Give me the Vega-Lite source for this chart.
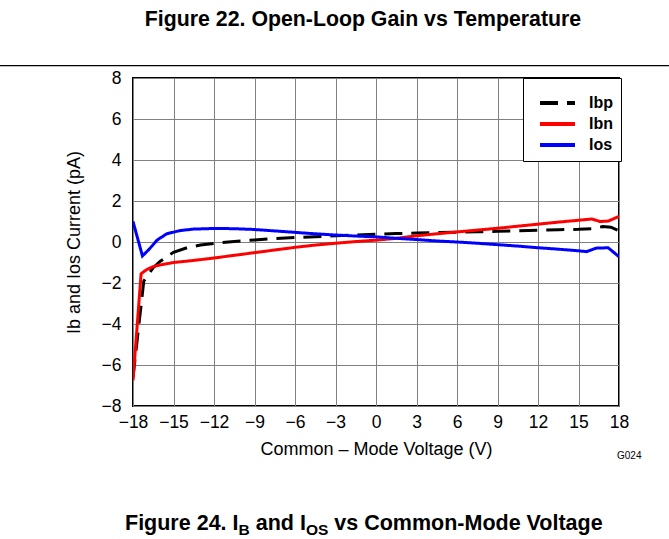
{
  "$schema": "https://vega.github.io/schema/vega-lite/v6.json",
  "width": 486,
  "height": 328,
  "autosize": {"type": "none"},
  "padding": {"left": 133, "top": 78, "right": 50, "bottom": 133},
  "background": "white",
  "title": {"text": "Figure 22. Open-Loop Gain vs Temperature", "anchor": "middle", "frame": "group", "dx": -13, "offset": 35, "fontSize": 21.3, "fontWeight": "bold", "font": "Liberation Sans", "color": "black"},
  "config": {
    "font": "Liberation Sans",
    "view": {"stroke": "black", "strokeWidth": 2},
    "axis": {"labelFont": "Liberation Sans", "labelFontSize": 17.5, "labelColor": "black", "labelOverlap": false, "labelFlush": false, "titleFont": "Liberation Sans", "titleFontSize": 18, "titleFontWeight": "normal", "titleColor": "black", "gridColor": "#808080", "gridWidth": 1, "gridOpacity": 1, "domain": false, "ticks": false}
  },
  "datasets": {
    "curves": [
      {"series": "Ibp", "vcm": -18, "current": -6.6},
      {"series": "Ibp", "vcm": -17.2, "current": -1.9},
      {"series": "Ibp", "vcm": -16.5, "current": -1.25},
      {"series": "Ibp", "vcm": -16, "current": -0.95},
      {"series": "Ibp", "vcm": -15, "current": -0.5},
      {"series": "Ibp", "vcm": -14, "current": -0.28},
      {"series": "Ibp", "vcm": -13, "current": -0.15},
      {"series": "Ibp", "vcm": -12, "current": -0.07},
      {"series": "Ibp", "vcm": -10.5, "current": 0.03},
      {"series": "Ibp", "vcm": -9, "current": 0.1},
      {"series": "Ibp", "vcm": -7.5, "current": 0.17},
      {"series": "Ibp", "vcm": -6, "current": 0.22},
      {"series": "Ibp", "vcm": -4.5, "current": 0.26},
      {"series": "Ibp", "vcm": -3, "current": 0.3},
      {"series": "Ibp", "vcm": -1.5, "current": 0.34},
      {"series": "Ibp", "vcm": 0, "current": 0.38},
      {"series": "Ibp", "vcm": 1.5, "current": 0.41},
      {"series": "Ibp", "vcm": 3, "current": 0.44},
      {"series": "Ibp", "vcm": 4.5, "current": 0.46},
      {"series": "Ibp", "vcm": 6, "current": 0.48},
      {"series": "Ibp", "vcm": 7.5, "current": 0.5},
      {"series": "Ibp", "vcm": 9, "current": 0.52},
      {"series": "Ibp", "vcm": 10.5, "current": 0.55},
      {"series": "Ibp", "vcm": 12, "current": 0.57},
      {"series": "Ibp", "vcm": 13.5, "current": 0.6},
      {"series": "Ibp", "vcm": 15, "current": 0.62},
      {"series": "Ibp", "vcm": 16, "current": 0.65},
      {"series": "Ibp", "vcm": 16.8, "current": 0.75},
      {"series": "Ibp", "vcm": 17.4, "current": 0.72},
      {"series": "Ibp", "vcm": 18, "current": 0.55},
      {"series": "Ibn", "vcm": -18, "current": -6.75},
      {"series": "Ibn", "vcm": -17.4, "current": -1.55},
      {"series": "Ibn", "vcm": -17, "current": -1.35},
      {"series": "Ibn", "vcm": -16.5, "current": -1.2},
      {"series": "Ibn", "vcm": -16, "current": -1.12},
      {"series": "Ibn", "vcm": -15, "current": -1.0},
      {"series": "Ibn", "vcm": -13.5, "current": -0.9},
      {"series": "Ibn", "vcm": -12, "current": -0.78},
      {"series": "Ibn", "vcm": -10.5, "current": -0.65},
      {"series": "Ibn", "vcm": -9, "current": -0.52},
      {"series": "Ibn", "vcm": -7.5, "current": -0.39},
      {"series": "Ibn", "vcm": -6, "current": -0.26},
      {"series": "Ibn", "vcm": -4.5, "current": -0.15},
      {"series": "Ibn", "vcm": -3, "current": -0.06},
      {"series": "Ibn", "vcm": -1.5, "current": 0.02},
      {"series": "Ibn", "vcm": 0, "current": 0.09},
      {"series": "Ibn", "vcm": 1.5, "current": 0.18},
      {"series": "Ibn", "vcm": 3, "current": 0.3},
      {"series": "Ibn", "vcm": 4.5, "current": 0.4},
      {"series": "Ibn", "vcm": 6, "current": 0.49},
      {"series": "Ibn", "vcm": 7.5, "current": 0.58},
      {"series": "Ibn", "vcm": 9, "current": 0.67},
      {"series": "Ibn", "vcm": 10.5, "current": 0.77},
      {"series": "Ibn", "vcm": 12, "current": 0.87},
      {"series": "Ibn", "vcm": 13.5, "current": 0.97},
      {"series": "Ibn", "vcm": 15, "current": 1.06},
      {"series": "Ibn", "vcm": 15.6, "current": 1.1},
      {"series": "Ibn", "vcm": 16, "current": 1.12},
      {"series": "Ibn", "vcm": 16.6, "current": 1.0},
      {"series": "Ibn", "vcm": 17.2, "current": 1.02},
      {"series": "Ibn", "vcm": 18, "current": 1.25},
      {"series": "Ios", "vcm": -18, "current": 1.0},
      {"series": "Ios", "vcm": -17.3, "current": -0.68},
      {"series": "Ios", "vcm": -16.8, "current": -0.35},
      {"series": "Ios", "vcm": -16.2, "current": 0.1},
      {"series": "Ios", "vcm": -15.5, "current": 0.4},
      {"series": "Ios", "vcm": -14.5, "current": 0.56},
      {"series": "Ios", "vcm": -13.5, "current": 0.63},
      {"series": "Ios", "vcm": -12, "current": 0.66},
      {"series": "Ios", "vcm": -10.5, "current": 0.65},
      {"series": "Ios", "vcm": -9, "current": 0.61},
      {"series": "Ios", "vcm": -7.5, "current": 0.54},
      {"series": "Ios", "vcm": -6, "current": 0.47},
      {"series": "Ios", "vcm": -4.5, "current": 0.4},
      {"series": "Ios", "vcm": -3, "current": 0.34},
      {"series": "Ios", "vcm": -1.5, "current": 0.29},
      {"series": "Ios", "vcm": 0, "current": 0.25},
      {"series": "Ios", "vcm": 1.5, "current": 0.18},
      {"series": "Ios", "vcm": 3, "current": 0.12},
      {"series": "Ios", "vcm": 4.5, "current": 0.05},
      {"series": "Ios", "vcm": 6, "current": 0.0},
      {"series": "Ios", "vcm": 7.5, "current": -0.06},
      {"series": "Ios", "vcm": 9, "current": -0.13},
      {"series": "Ios", "vcm": 10.5, "current": -0.2},
      {"series": "Ios", "vcm": 12, "current": -0.28},
      {"series": "Ios", "vcm": 13.5, "current": -0.35},
      {"series": "Ios", "vcm": 15, "current": -0.43},
      {"series": "Ios", "vcm": 15.6, "current": -0.47},
      {"series": "Ios", "vcm": 16.3, "current": -0.3},
      {"series": "Ios", "vcm": 17.2, "current": -0.28},
      {"series": "Ios", "vcm": 18, "current": -0.72}
    ],
    "one": [{"k": 1}]
  },
  "layer": [
    {
      "data": {"name": "curves"},
      "mark": {"type": "line", "strokeWidth": 3, "clip": true},
      "encoding": {
        "x": {"field": "vcm", "type": "quantitative", "scale": {"domain": [-18, 18], "nice": false, "zero": false}, "axis": {"values": [-18, -15, -12, -9, -6, -3, 0, 3, 6, 9, 12, 15, 18], "title": "Common – Mode Voltage (V)", "labelPadding": 7, "titlePadding": 10}},
        "y": {"field": "current", "type": "quantitative", "scale": {"domain": [-8, 8], "nice": false, "zero": false}, "axis": {"values": [-8, -6, -4, -2, 0, 2, 4, 6, 8], "title": "Ib and Ios Current (pA)", "labelPadding": 12, "titlePadding": 18}},
        "color": {"field": "series", "type": "nominal", "scale": {"domain": ["Ibp", "Ibn", "Ios"], "range": ["#000000", "#ff0000", "#0000ff"]}, "legend": {"title": " ", "titleFontSize": 4, "titlePadding": 0.5, "orient": "none", "legendX": 390, "legendY": 0, "fillColor": "white", "strokeColor": "black", "padding": 8, "symbolType": "M-1.667,0H1.667", "symbolSize": 441, "symbolStrokeWidth": 4, "symbolOffset": 14, "labelFontSize": 16, "labelFontWeight": "bold", "labelColor": "black", "labelOffset": 19, "rowPadding": 0}},
        "strokeDash": {"field": "series", "type": "nominal", "scale": {"domain": ["Ibp", "Ibn", "Ios"], "range": [[18, 9], [1, 0], [1, 0]]}, "legend": {"title": " "}}
      }
    },
    {
      "data": {"name": "one"},
      "mark": {"type": "rule", "color": "black", "strokeWidth": 1.3},
      "encoding": {"x": {"datum": -27.85}, "x2": {"datum": 21.7}, "y": {"datum": 8.6}}
    },
    {
      "data": {"name": "one"},
      "mark": {"type": "text", "text": "Figure 24. I", "align": "left", "baseline": "alphabetic", "fontSize": 21.5, "fontWeight": "bold", "dx": -8, "color": "black"},
      "encoding": {"x": {"datum": -18}, "y": {"datum": -14.05}}
    },
    {
      "data": {"name": "one"},
      "mark": {"type": "text", "text": "B", "align": "left", "baseline": "alphabetic", "fontSize": 15.5, "fontWeight": "bold", "dx": 105.5, "dy": 5, "color": "black"},
      "encoding": {"x": {"datum": -18}, "y": {"datum": -14.05}}
    },
    {
      "data": {"name": "one"},
      "mark": {"type": "text", "text": "and I", "align": "left", "baseline": "alphabetic", "fontSize": 21.5, "fontWeight": "bold", "dx": 122.7, "color": "black"},
      "encoding": {"x": {"datum": -18}, "y": {"datum": -14.05}}
    },
    {
      "data": {"name": "one"},
      "mark": {"type": "text", "text": "OS", "align": "left", "baseline": "alphabetic", "fontSize": 15.5, "fontWeight": "bold", "dx": 172.9, "dy": 5, "color": "black"},
      "encoding": {"x": {"datum": -18}, "y": {"datum": -14.05}}
    },
    {
      "data": {"name": "one"},
      "mark": {"type": "text", "text": "vs Common-Mode Voltage", "align": "left", "baseline": "alphabetic", "fontSize": 21.5, "fontWeight": "bold", "dx": 201.3, "color": "black"},
      "encoding": {"x": {"datum": -18}, "y": {"datum": -14.05}}
    },
    {
      "data": {"name": "one"},
      "mark": {"type": "text", "text": "G024", "align": "left", "baseline": "middle", "fontSize": 10, "dx": -2, "color": "black"},
      "encoding": {"x": {"datum": 18}, "y": {"datum": -10.44}}
    }
  ]
}
